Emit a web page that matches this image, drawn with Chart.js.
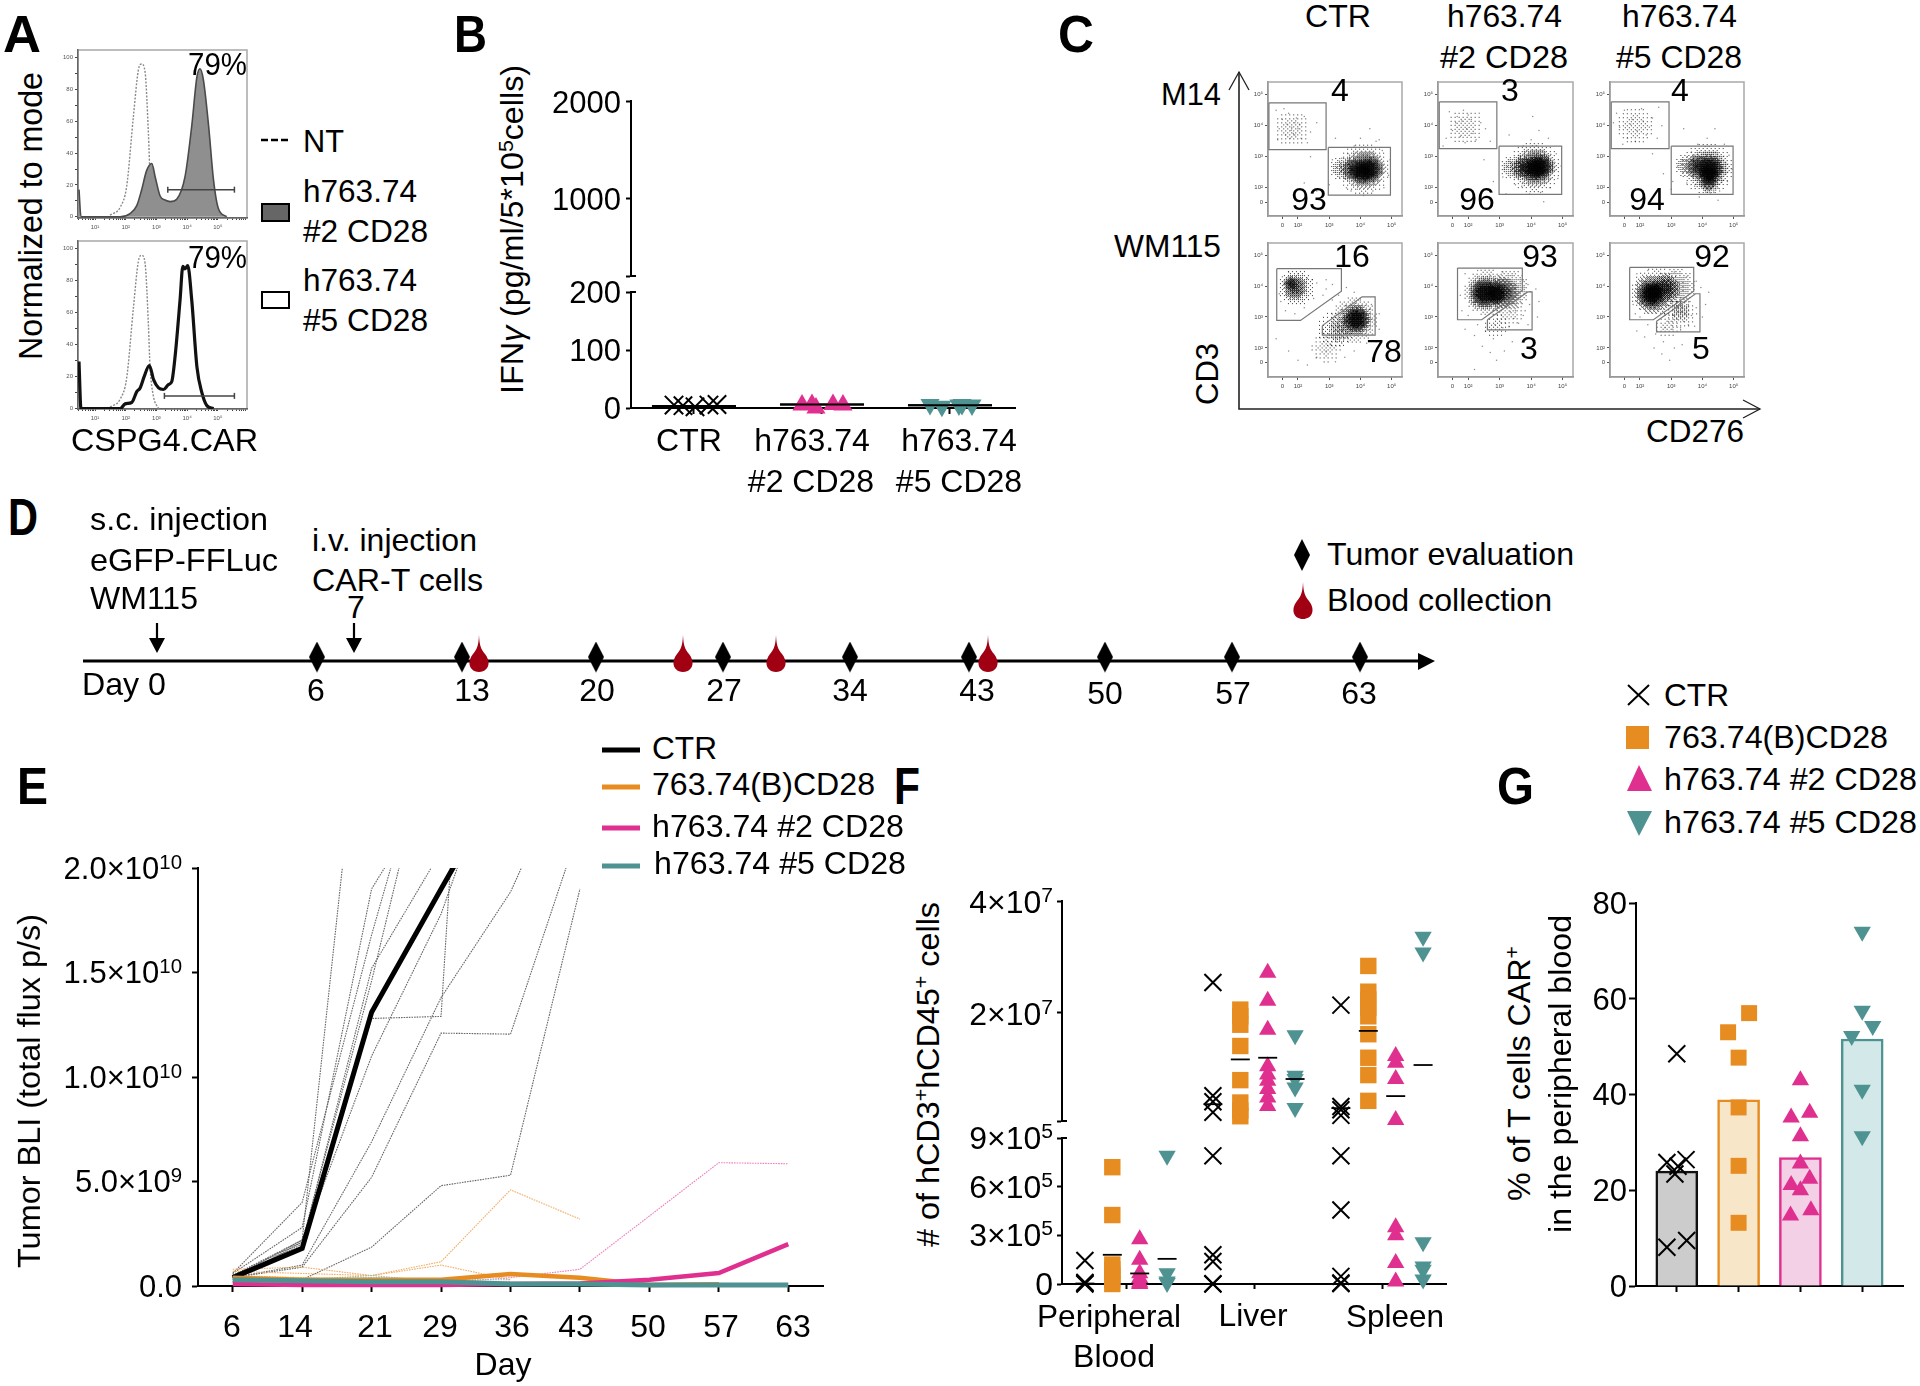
<!DOCTYPE html>
<html><head><meta charset="utf-8">
<script src="https://cdn.jsdelivr.net/npm/chart.js@4"></script>
<style>
html,body{margin:0;padding:0;background:#fff;width:1920px;height:1386px;overflow:hidden;font-family:"Liberation Sans",Arial,sans-serif}
canvas{position:absolute}
span.t{position:absolute;left:0;top:0;white-space:nowrap;line-height:1;color:#000;transform-origin:0 0}
sup{font-size:.66em;line-height:0;vertical-align:baseline;position:relative;top:-.5em}
svg{position:absolute;left:0;top:0}
</style></head><body>
<script>
// ---------- Panel A: histograms (x = log10 intensity, y = % of mode)
const ntX=[1.49,1.82,2.03,2.25,2.41,2.52,2.63,2.74,2.79,2.9,3.07];
const ntY=[1,6,19,63,92,96,91,52,27,8,0];
const h2X=[.478,.543,1.82,2.14,2.36,2.52,2.68,2.85,2.96,3.12,3.28,3.45,3.66,3.93,4.15,4.32,4.42,4.53,4.7,4.86,5.02,5.29];
const h2Y=[17,0,0,2,7,17,29,33.5,25,13,10.5,9.5,11,25,57,88,93,86,57,23,5,0];
const h5X=[.478,.543,1.82,1.98,2.2,2.36,2.47,2.6,2.77,2.91,3.07,3.23,3.39,3.5,3.61,3.77,3.86,3.93,4.02,4.15,4.32,4.48,4.64,4.86];
const h5Y=[29.5,0,0,3,4,10.7,13,20,27,18,13,12,15,17,33,68,89,87.5,89.5,68,26,10,2,0];
const gateTopX=[3.37,5.54], gateTopY=[17,17], gateBotX=[3.26,5.54], gateBotY=[8,8];
const histTicksY=[0,10,20,30,40,50,60,70,80,90,100];
// ---------- Panel B
const catB=[["CTR"],["h763.74","#2 CD28"],["h763.74","#5 CD28"]];
const bCtrX=[-.156,-.086,.008,.117,.18], bCtrV=[5,4,2,5,6];
const bH2X=[-.156,-.078,-.047,.086,.164], bH2V=[5,6,0,6,5];
const bH5X=[-.156,-.063,.07,.094,.172], bH5V=[6,3,5,6,5];
const bMeans=[3.5,6,4.6];
const bTopTicks=[200,1000,2000], bTopText=["","1000","2000"], bBotTicks=[0,100,200], bBotText=["0","100","200"];
// ---------- Panel C: flow plots, axes in log10 units; [x,y,radius] density clouds and single events
const flowTicksX=[1.5,2,3,4,5], flowTicksY=[1.53,2,3,4,5], flowTickText=["0","10²","10³","10⁴","10⁵"];
const flowHead=["CTR","h763.74","h763.74"];
const gates=[
 [[1.07,4.74,2.9,4.74,2.9,3.23,1.07,3.23,1.07,4.74],[2.97,3.3,4.96,3.3,4.96,1.76,2.97,1.76,2.97,3.3]],
 [[1.08,4.77,2.91,4.77,2.91,3.26,1.08,3.26,1.08,4.77],[2.98,3.34,4.97,3.34,4.97,1.79,2.98,1.79,2.98,3.34]],
 [[1.08,4.77,2.93,4.77,2.93,3.26,1.08,3.26,1.08,4.77],[3.0,3.34,4.98,3.34,4.98,1.79,3.0,1.79,3.0,3.34]],
 [[1.32,4.56,3.39,4.56,3.39,3.83,2.08,2.89,1.32,2.89,1.32,4.56],[2.78,2.72,4.05,3.65,4.47,3.65,4.47,2.41,2.78,2.41,2.78,2.72]],
 [[1.66,4.58,3.72,4.58,3.72,3.86,2.43,2.91,1.66,2.91,1.66,4.58],[2.61,2.91,3.89,3.81,4.03,3.81,4.03,2.58,2.61,2.58,2.61,2.91]],
 [[1.67,4.6,3.72,4.6,3.72,3.83,2.43,2.91,1.67,2.91,1.67,4.6],[2.53,2.86,3.78,3.75,3.92,3.75,3.92,2.52,2.53,2.52,2.53,2.86]]];
const blobCore=[
 [[4.3,2.6,14],[4.05,2.52,13]],[[4.3,2.68,14],[4.1,2.62,13]],[[4.25,2.62,14],[4.2,2.42,11]],
 [[3.87,2.93,14]],[[2.5,3.77,15],[2.9,3.75,12]],[[2.35,3.72,15],[2.45,3.8,12]]];
const blobMid=[
 [[4.15,2.6,21],[3.75,2.6,13]],[[4.15,2.66,21],[3.75,2.65,13]],[[4.2,2.6,21],[3.85,2.7,13],[4.2,2.15,11]],
 [[3.85,2.92,18],[1.9,3.95,13],[1.75,4.1,8]],[[2.55,3.78,20],[3.1,3.8,17]],[[2.4,3.75,21],[2.85,3.95,15]]];
const blobHalo=[
 [[4.1,2.6,28],[3.4,2.62,14]],[[4.1,2.65,28],[3.4,2.65,14]],[[4.15,2.62,28],[3.5,2.72,14]],
 [[3.8,2.9,26],[3.3,2.55,13],[1.95,3.95,20]],[[2.6,3.8,26],[3.3,3.85,23]],[[2.5,3.8,27],[3.15,3.95,22],[3.3,3.2,12]]];
const blobFaint=[
 [[1.8,3.9,22]],[[1.9,3.95,22]],[[1.85,4.0,24]],
 [[3.2,2.6,24],[2.9,2.0,18]],[[3.3,3.2,20],[2.9,2.7,15]],[[3.3,3.1,20],[2.9,2.7,15]]];
const flowDots=[
 [1.3,4.5,1.5,4.2,1.7,4.4,1.9,4.1,2.2,4.3,1.4,3.9,1.6,3.7,1.8,3.95,1.85,3.75,2,3.9,2.1,3.6,2.4,3.8,1.75,3.6,1.95,4.25,1.65,4.05,2.6,4.1,1.35,3.55,2.3,3.45,1.55,4.55,1.78,3.85,1.9,3.7,2.05,4.05,3.2,2.5,3.35,2.7,3.5,2.3,3.4,2.95,3.6,3.1,3.55,2,3.8,3.35,4,3.6,4.3,3.9,4.5,3.5,4.7,3.2,4.95,2.9,4.9,2.4,4.75,2,4.4,1.9,4.1,1.75,3.9,1.95,3.2,3.6,3,2.1,2.6,1.9,2.4,3,3.7,1.9,3.1,2.9,4.6,3.55,2.2,2.15],
 [1.4,4.45,1.65,4.3,1.85,4.5,2.1,4.2,2.4,4.1,1.5,3.85,1.75,3.65,1.95,3.9,2.15,3.75,2.25,3.55,1.6,4.1,2.55,3.9,1.3,3.6,2,4.35,1.8,4.15,2.7,3.5,2.35,4.4,1.9,3.45,3.15,2.6,3.3,2.85,3.45,2.45,3.6,3.05,3.5,2.1,3.75,3.35,4,3.55,4.25,3.85,4.55,3.6,4.8,3.1,4.95,2.7,4.85,2.3,4.6,2,4.3,1.85,3.95,1.8,3.7,2.05,3.1,2.35,2.8,2.2,2.5,2.9,3.3,3.7,4.4,1.55,3.2,1.8,4.05,4.3,1.2,3.35],
 [1.25,4.4,1.5,4.5,1.75,4.2,2.05,4.55,2.4,4.25,1.35,3.95,1.6,3.6,1.9,3.85,2.2,3.7,2.55,3.6,1.7,4.05,2.7,4.0,1.45,3.4,2.1,4.15,1.85,3.5,2.3,3.95,2.6,4.6,1.15,4.1,3.2,2.7,3.35,2.9,3.5,2.5,3.65,3.15,3.5,2.15,3.85,3.4,4.15,3.6,4.4,3.9,4.7,3.4,4.85,3.05,4.95,2.6,4.8,2.2,4.55,1.9,4.25,1.8,3.9,1.7,3.75,2.05,3.05,2.2,2.75,2.45,2.4,3.1,3.4,3.9,4.5,1.6,3.0,1.95],
 [1.5,4.3,1.7,4.45,2.0,4.4,2.3,4.25,2.6,4.1,2.9,4.2,3.1,4.05,1.45,3.5,1.6,3.2,1.9,3.1,2.2,3.3,2.5,3.6,2.8,3.7,3.1,3.55,3.3,3.7,1.4,3.75,2.45,4.2,2.9,3.9,3.55,3.95,3.8,3.8,4.0,3.55,4.3,3.25,4.6,3.1,4.6,2.6,4.5,2.2,4.2,2.15,3.8,1.9,3.5,1.7,3.2,1.55,2.9,1.9,2.6,1.7,2.3,1.45,2.0,1.6,1.7,1.9,2.9,2.35,3.05,2.1,3.4,2.15,3.6,2.3,3.15,2.65,3.35,3.05,3.1,2.95,3.9,2.4,4.2,2.55,4.35,3.4,1.3,2.3],
 [1.9,4.4,2.3,4.5,2.7,4.35,3.1,4.45,3.5,4.4,3.75,4.2,3.9,4.05,4.15,3.9,1.8,3.2,2.0,3.05,2.2,3.4,3.55,3.55,3.3,3.3,3.0,3.15,3.45,2.95,3.75,3.05,3.95,3.4,3.6,2.8,3.3,2.7,3.9,2.75,3.1,2.65,2.85,2.75,3.5,3.2,2.3,2.75,2.55,2.55,2.2,2.4,2.8,2.3,3.4,2.2,2.45,2.05,2.7,1.85,2.9,1.6,3.15,1.9,1.9,2.6,2.2,1.3,4.25,3.5,4.2,3.0,1.75,3.7],
 [1.9,4.4,2.25,4.5,2.65,4.4,3.1,4.45,3.5,4.3,3.8,4.15,3.95,3.95,4.2,3.8,1.85,3.1,2.0,3.0,1.78,3.4,3.55,3.4,3.3,3.15,3.05,3.05,3.4,2.85,3.65,3.05,3.8,3.3,3.55,2.75,3.3,2.65,3.75,2.7,3.05,2.6,2.8,2.65,3.45,3.1,2.25,2.75,2.5,2.45,2.15,2.35,2.75,2.2,3.35,2.1,2.45,2.0,2.7,1.8,2.95,1.6,3.1,2.0,1.9,2.55,4.1,3.4,4.0,3.0,3.2,3.5,3.5,3.6]];
const flowNums=[["4","93"],["3","96"],["4","94"],["16","78"],["93","3"],["92","5"]];
// ---------- Panel D
const tumorDays=[6,13,20,27,34,43,50,57,63];
const bloodDays=[14,25,30,44];
const dayAnchor=[-4,0,6,7,13,14,20,25,27,30,34,43,44,50,57,63,67];
const dayText=["6","13","20","27","34","43","50","57","63"];
// ---------- Panel E
const eDays=["6","14","21","29","36","43","50","57","63"];
const eTicks=[0,5e9,1e10,1.5e10,2e10], eTickText=["0.0","5.0×10<sup>9</sup>","1.0×10<sup>10</sup>","1.5×10<sup>10</sup>","2.0×10<sup>10</sup>"];
const eMeanCtr=[.04,.18,1.31,1.9,2.48];
const eMean763=[.04,.03,.03,.03,.057,.04,.005,.008];
const eMeanH2=[.01,.005,.005,.005,.01,.012,.03,.062,.2];
const eMeanH5=[.03,.025,.02,.02,.01,.01,.005,.005,.005];
const eMiceCtr=[[.05,.22,3.3],[.06,.28,1.9,2.44],[.06,.4,1.68,2.84],[.05,.21,1.46,2.83],[.04,.2,1.52,2.08],[.03,.21,1.1,1.78,2.72],[.04,.22,1.28,1.29,6.6],[.04,.1,.69,1.38,1.885,2.62],[.04,.09,.52,1.21,1.205,2.2],[.02,.03,.186,.48,.53,1.9]];
const eMice763=[[.08,.09,.05,.116,.46,.32],[.07,.06,.05,.1,.03],[.05,.04,.03,.02,.02]];
const eMiceH2=[[.02,.01,.01,.015,.04,.08,.335,.59,.585],[.04,.02,.01,.01,.01]];
const eMiceH5=[[.04,.03,.04,.03,.03],[.02,.03,.05,.02,.01]];
const eLegend=["CTR","763.74(B)CD28","h763.74 #2 CD28","h763.74 #5 CD28"];
// ---------- Panel F: [peripheral blood, liver, spleen]
const fGroups=[["Peripheral","Blood"],["Liver"],["Spleen"]];
const fCtr=[[1.45e5,5e3,0,1e4],[2.544e7,5.2e6,4.14e6,2.25e6,7.9e5,1.8e5,1.39e5,2e3,0],[2.14e7,3.3e6,2.7e6,1.7e6,7.9e5,4.56e5,4.7e4,6e3,2e3]];
const f763=[[7.2e5,4.25e5,1.2e5,9e4,5.7e4,2.7e4,0],[2.06e7,1.94e7,1.79e7,1.41e7,8e6,4e6,2.55e6,1.55e6],[2.84e7,2.38e7,2.24e7,2.09e7,1.94e7,1.62e7,1.2e7,8.9e6,4.3e6]];
const fH2=[[2.76e5,1.5e5,6.7e4,3.7e4,1e4,0],[2.72e7,2.22e7,1.7e7,1.05e7,9e6,7.9e6,6.4e6,4.9e6,3.4e6],[1.23e7,1.11e7,8.2e6,9e5,3.5e5,3e5,1.3e5,1.6e4]];
const fH5=[[7.9e5,6.7e4,1.6e4,6e3],[1.6e7,8.8e6,8.2e6,6.7e6,3e6],[3.36e7,3.08e7,2.58e5,1.08e5,8.8e4,2.7e4]];
const fMeanCtr=[3e3,3.7e6,3e6], fMean763=[1.8e5,1.17e7,1.68e7], fMeanH2=[6.5e4,1.2e7,5.15e6], fMeanH5=[1.55e5,8.2e6,1.07e7];
const fTopTicks=[7e5,2e7,4e7], fTopText=["","2×10<sup>7</sup>","4×10<sup>7</sup>"];
const fBotTicks=[0,3e5,6e5,9e5], fBotText=["0","3×10<sup>5</sup>","6×10<sup>5</sup>","9×10<sup>5</sup>"];
// ---------- Panel G
const gMeans=[24,38.9,26.8,51.6];
const gCtrX=[0,-.16,.15,.02,-.03,-.16,.16], gCtrV=[48.5,25.8,26.4,25,23.4,8.1,9.5];
const g763X=[.17,-.17,0,0,0,0], g763V=[57,53,47.7,37.3,25.1,13.2];
const gH2X=[0,-.15,.15,0,0,.15,-.15,0,-.16,.17], gH2V=[43,35.2,36.2,31.3,25.6,22.4,21.1,20,14.7,15.8];
const gH5X=[0,0,.17,-.17,0,0], gH5V=[74,57.5,54.3,52.2,41,31.3];
const gTicks=[0,20,40,60,80], gTickText=["0","20","40","60","80"];

const BLACK='#000',ORANGE='#e78c21',PINK='#e0308f',TEAL='#4f9292';
Chart.defaults.font.family='"Liberation Sans",Arial,sans-serif';
Chart.defaults.animation=false;
Chart.defaults.color='#000';
const zip=(xs,ys)=>xs.map((x,i)=>({x,y:ys[i]}));
const flat=a=>{const o=[];for(let i=0;i<a.length;i+=2)o.push({x:a[i],y:a[i+1]});return o};

class AnchorScale extends Chart.LinearScale{
  getPixelForValue(v){const a=this.options.anchors,p=this.options.anchorPx;
    let i=0;while(i<a.length-2&&v>a[i+1])i++;
    return p[i]+(v-a[i])/(a[i+1]-a[i])*(p[i+1]-p[i])-this.options.originPx}
}
AnchorScale.id='anchor';AnchorScale.defaults=Chart.LinearScale.defaults;
Chart.register(AnchorScale);

const frame=c=>({id:'frame',beforeDraw(ch){const a=ch.chartArea,x=ch.ctx;x.save();x.strokeStyle=c;x.lineWidth=1.5;x.strokeRect(a.left,a.top,a.right-a.left,a.bottom-a.top);x.restore()}});
const rightTick=(vals,len)=>({id:'rightTick',afterDraw(ch){const x=ch.ctx,s=ch.scales.y;x.save();x.strokeStyle='#000';x.lineWidth=2;vals.forEach(v=>{const y=s.getPixelForValue(v);x.beginPath();x.moveTo(ch.chartArea.left,y);x.lineTo(ch.chartArea.left+len,y);x.stroke()});x.restore()}});

function mk([cx,cy,cw,ch],[l,t,r,b],cfg){
  const cv=document.createElement('canvas');cv.width=cw;cv.height=ch;cv.style.left=cx+'px';cv.style.top=cy+'px';document.body.appendChild(cv);
  const sc=cfg.scales,hx=sc.x.display===false,hy=sc.y.display===false;
  if(!hx)sc.x.afterFit=s=>{s.height=cy+ch-b};
  if(!hy)sc.y.afterFit=s=>{s.width=l-cx};
  cfg.datasets.forEach((d,i)=>{d.order=-i});
  const c=new Chart(cv,{type:cfg.type||'scatter',data:{labels:cfg.labels,datasets:cfg.datasets},plugins:cfg.plugins||[],
    options:{responsive:false,maintainAspectRatio:false,animation:false,events:[],
      layout:{autoPadding:false,padding:{left:hy?l-cx:0,top:t-cy,right:cx+cw-r,bottom:hx?cy+ch-b:0}},
      plugins:{legend:{display:false},tooltip:{enabled:false},title:{display:false}},scales:sc}});
  c.$cy=cy;c.$cx=cx;return c;
}
function ax(min,max,o={}){
  const a={type:'linear',min,max,offset:false,
    border:{color:o.bc||'#000',width:o.bw||2},
    grid:{drawOnChartArea:false,drawTicks:true,offset:false,tickLength:o.tl??6,tickWidth:o.tw||2,tickColor:o.tc||'#000'},
    ticks:{display:!!o.fmt,font:{size:o.fs||31},color:o.lc||'#000',padding:o.pad??3,maxRotation:0,minRotation:0,autoSkip:false,callback:o.fmt||(()=>'' ),includeBounds:false}};
  if(o.vals)a.afterBuildTicks=s=>{s.ticks=o.vals.map(v=>({value:v}))};
  return a;
}
const hidden=(min,max)=>({type:'linear',min,max,display:false});
const byVal=(vals,text)=>v=>{const i=vals.findIndex(q=>Math.abs(q-v)<1e-6*(Math.abs(q)+1));return i<0?'':text[i]};

function T(html,x,y,size,o={}){
  const s=document.createElement('span');s.className='t';s.innerHTML=html;s.style.fontSize=size+'px';
  if(o.bold)s.style.fontWeight='bold';document.body.appendChild(s);
  const w=s.getBoundingClientRect().width,k=o.w?o.w/w:1,dx=o.align==='c'?-w*k/2:o.align==='r'?-w*k:0;
  s.style.transform=`translate(${x}px,${y}px) rotate(${o.rot||0}deg) translate(${dx}px,${-.8465*size}px) scaleX(${k})`;
}
function axisText(chart,vals,text,right,drop,size){vals.forEach((v,i)=>{if(text[i])T(text[i],right,chart.$cy+chart.scales.y.getPixelForValue(v)+drop,size,{align:'r'})})}
const svgNS='http://www.w3.org/2000/svg';
const svg=document.createElementNS(svgNS,'svg');svg.setAttribute('width',1920);svg.setAttribute('height',1386);
function P(d,a){const p=document.createElementNS(svgNS,'path');p.setAttribute('d',d);for(const k in a)p.setAttribute(k,a[k]);svg.appendChild(p)}

// ===== Panel A
const histLogTicks=[];for(let n=0;n<6;n++)for(let k=1;k<10;k++){const v=n+Math.log10(k);if(v>.45&&v<5.95)histLogTicks.push(v)}
const expText={1:"10¹",2:"10²",3:"10³",4:"10⁴",5:"10⁵"};
function hist(rect,plot,yMin,yMax,main,gate,fillColor,lineW){
  mk(rect,plot,{datasets:[
    {data:zip(ntX,ntY),showLine:true,borderColor:'#8a8a8a',borderWidth:1.4,borderDash:[2,1.5],pointRadius:0,cubicInterpolationMode:'monotone'},
    {data:main,showLine:true,borderColor:fillColor?'#4a4a4a':'#111',borderWidth:lineW,pointRadius:0,cubicInterpolationMode:'monotone',fill:fillColor?'origin':false,backgroundColor:fillColor||'transparent'},
    {data:gate,showLine:true,borderColor:'#444',borderWidth:1.5,pointStyle:'line',rotation:90,pointRadius:3,pointBorderWidth:1.5,pointBorderColor:'#444'}],
   plugins:[frame('#a8a8a8')],
   scales:{x:ax(.446,5.95,{vals:histLogTicks,tl:2,tw:1,bw:1.5,tc:'#444',bc:'#666',fs:6,lc:'#555',pad:4,fmt:v=>{const n=Math.round(v);return Math.abs(v-n)<1e-6?expText[n]||'':''}}),
           y:ax(yMin,yMax,{vals:histTicksY,tl:3,tw:1,bw:1.5,tc:'#444',bc:'#666',fs:6,lc:'#555',pad:2,fmt:v=>v%20===0?String(v):''})}});
}
hist([50,40,210,200],[78,50,247,218],-.8,104.8,zip(h2X,h2Y),zip(gateTopX,gateTopY),'#8f8f8f',1.6);
hist([50,231,210,200],[78,241,247,409],-.2,104.9,zip(h5X,h5Y),zip(gateBotX,gateBotY),null,3.2);

// ===== Panel B
const chBt=mk([545,70,485,230],[631,101,1015,276],{datasets:[],plugins:[rightTick([200],5)],
  scales:{x:hidden(-.492,2.508),y:ax(200,2000,{vals:bTopTicks,tl:5})}});
const xMark=(data,r,w)=>({data,pointStyle:'crossRot',pointRadius:r,borderColor:BLACK,pointBorderColor:BLACK,pointBorderWidth:w,clip:false,backgroundColor:'transparent'});
const upMark=(data,r)=>({data,pointStyle:'triangle',pointRadius:r,pointBackgroundColor:PINK,pointBorderWidth:0,clip:false});
const downMark=(data,r)=>({data,pointStyle:'triangle',rotation:180,pointRadius:r,pointBackgroundColor:TEAL,pointBorderWidth:0,clip:false});
const sqMark=(data,r)=>({data,pointStyle:'rect',pointRadius:r,pointBackgroundColor:ORANGE,pointBorderWidth:0,clip:false});
const meanMark=(data,r,w)=>({data,pointStyle:'line',pointRadius:r,pointBorderColor:BLACK,pointBorderWidth:w,clip:false});
const chBb=mk([545,260,485,185],[631,292,1015,408],{datasets:[
    meanMark(bMeans.map((y,x)=>({x,y})),42,2),
    xMark(bCtrX.map((d,i)=>({x:d,y:bCtrV[i]})),13,2),
    upMark(bH2X.map((d,i)=>({x:1+d,y:bH2V[i]})),11),
    downMark(bH5X.map((d,i)=>({x:2+d,y:bH5V[i]})),11),
    meanMark(bMeans.map((y,x)=>({x,y})),42,2)],
  plugins:[rightTick([200],5)],
  scales:{x:ax(-.492,2.508,{vals:[0,1,2],tl:6}),y:ax(0,200,{vals:bBotTicks,tl:5})}});
axisText(chBt,bTopTicks,bTopText,621,12,31);axisText(chBb,bBotTicks,bBotText,621,11,31);

// ===== Panel C
// A density cloud is drawn as a stippled marker: an ordered-dither rendering of a soft disc.
const BAYER=[0,8,2,10,12,4,14,6,3,11,1,9,15,7,13,5];
function stipple(r,peak){
  const n=2*Math.ceil(r)+1,c=document.createElement('canvas');c.width=c.height=n;
  const x=c.getContext('2d'),im=x.createImageData(n,n),m=(n-1)/2;
  for(let j=0;j<n;j++)for(let i=0;i<n;i++){
    const d2=((i-m)*(i-m)+(j-m)*(j-m))/(r*r);if(d2>=1)continue;
    const a=peak*Math.pow(1-d2,1.3)*1.25;
    if(a>(BAYER[(i&3)+4*(j&3)]+.5)/16){im.data[4*(j*n+i)+3]=205}
  }
  x.putImageData(im,0,0);return c;
}
const colL=[1268,1438,1610],colR=[1402,1573,1744],rowT=[82,243],rowB=[216,377];
for(let r=0;r<2;r++)for(let c=0;c<3;c++){
  const i=r*3+c,l=colL[c],R=colR[c],t=rowT[r],b=rowB[r];
  const cloud=(arr,peak)=>({data:arr.map(a=>({x:a[0],y:a[1]})),pointStyle:arr.map(a=>stipple(a[2],peak))});
  mk([l-26,t-6,R-l+32,b-t+24],[l,t,R,b],{datasets:[
     cloud(blobFaint[i],.1),cloud(blobHalo[i],.28),cloud(blobMid[i],.65),cloud(blobCore[i],1),
     {data:flat(flowDots[i]),pointRadius:.75,pointBackgroundColor:'rgba(0,0,0,.45)',pointBorderWidth:0},
     ...gates[i].map(g=>({data:flat(g),showLine:true,borderColor:'#777',borderWidth:1.2,pointRadius:0}))],
    plugins:[frame('#a9a9a9')],
    scales:{x:ax(1.04,5.33,{vals:flowTicksX,tl:3,tw:1,bw:1.5,bc:'#999',tc:'#555',fs:6,lc:'#444',pad:3,fmt:byVal(flowTicksX,flowTickText)}),
            y:ax(r?1.06:1.09,r?5.39:5.41,{vals:flowTicksY,tl:3,tw:1,bw:1.5,bc:'#999',tc:'#555',fs:6,lc:'#444',pad:2,fmt:byVal(flowTicksY,flowTickText)})}});
}

// ===== Panel D
function markCanvas(w,h,padBottom,draw){const c=document.createElement('canvas');c.width=w;c.height=h+padBottom;draw(c.getContext('2d'));return c}
const diamond=pad=>markCanvas(16,31,pad,x=>{x.fillStyle='#000';x.beginPath();x.moveTo(8,0);x.lineTo(16,15.5);x.lineTo(8,31);x.lineTo(0,15.5);x.closePath();x.fill()});
const drop=pad=>markCanvas(22,37,pad,x=>{x.fillStyle='#a00012';x.beginPath();x.moveTo(11,0);x.bezierCurveTo(11.5,11,13,14,17,19);x.bezierCurveTo(24,28,20,37,11,37);x.bezierCurveTo(2,37,-2,28,5,19);x.bezierCurveTo(9,14,10.5,11,11,0);x.closePath();x.fill()});
const dayPx=[83,157,317,354,462,479,596,683,723,776,850,969,988,1105,1232,1360,1425];
mk([60,625,1400,70],[83,640,1434,682],{datasets:[
   {data:[{x:-4,y:0},{x:67,y:0}],showLine:true,borderColor:'#000',borderWidth:3,pointRadius:0,clip:false},
   {data:tumorDays.map(x=>({x,y:0})),pointStyle:diamond(8),clip:false},
   {data:bloodDays.map(x=>({x,y:0})),pointStyle:drop(15),clip:false}],
  scales:{x:{type:'anchor',min:-4,max:67,display:false,anchors:dayAnchor,anchorPx:dayPx,originPx:60},y:hidden(-1,1)}});

// ===== Panel E
const thin=(d,c)=>({data:d.map(v=>v*1e10),borderColor:c,borderWidth:1.1,borderDash:[1.6,1],pointRadius:0,clip:{left:false,top:0,right:false,bottom:false}});
const bold=(d,c,w)=>({data:d.map(v=>v*1e10),borderColor:c,borderWidth:w,pointRadius:0,clip:{left:false,top:0,right:false,bottom:false}});
const chE=mk([40,840,810,540],[198,868,823,1286],{type:'line',labels:eDays,datasets:[
   ...eMiceCtr.map(d=>thin(d,'#666')),...eMice763.map(d=>thin(d,'#f2ad63')),...eMiceH2.map(d=>thin(d,'#ee7fbb')),...eMiceH5.map(d=>thin(d,'#8fc1c1')),
   bold(eMeanCtr,BLACK,5),bold(eMean763,ORANGE,4.5),bold(eMeanH2,PINK,4.5),bold(eMeanH5,TEAL,5)],
  scales:{x:{type:'category',offset:true,border:{color:'#000',width:2},grid:{drawOnChartArea:false,offset:false,tickLength:6,tickWidth:2,tickColor:'#000'},
             ticks:{display:false,autoSkip:false}},
          y:ax(0,2e10,{vals:eTicks,tl:6})}});
axisText(chE,eTicks,eTickText,182,11,31);
const eTextCx=[232,295,375,440,512,576,648,721,793];
eDays.forEach((d,i)=>T(d,eTextCx[i],1337,32,{align:'c'}));

// ===== Panel F
const subX=[-.321,-.107,.107,.321];
function fPts(series,s,keep){const o=[];series.forEach((vals,g)=>vals.forEach(y=>{if(keep(y))o.push({x:g+subX[s],y})}));return o}
function fMeans(m,s,keep){const o=[];m.forEach((y,g)=>{if(keep(y))o.push({x:g+subX[s],y})});return o}
function fData(keep){return [
   xMark(fPts(fCtr,0,keep),12,2),sqMark(fPts(f763,1,keep),11.6),upMark(fPts(fH2,2,keep),10),downMark(fPts(fH5,3,keep),10),
   meanMark(fMeans(fMeanCtr,0,keep),9.5,1.8),meanMark(fMeans(fMean763,1,keep),9.5,1.8),meanMark(fMeans(fMeanH2,2,keep),9.5,1.8),meanMark(fMeans(fMeanH5,3,keep),9.5,1.8)]}
const isTop=v=>v>8.5e5,isBot=v=>v<=8.5e5;
const chFt=mk([950,880,510,262],[1062,901,1446,1121],{datasets:fData(isTop),plugins:[rightTick([7e5],5)],
  scales:{x:hidden(-.5,2.5),y:ax(7e5,4e7,{vals:fTopTicks,tl:5})}});
const chFb=mk([950,1108,510,200],[1062,1138,1446,1284],{datasets:fData(isBot),plugins:[rightTick([9e5],5)],
  scales:{x:ax(-.5,2.5,{vals:[0,1,2],tl:5}),y:ax(0,9e5,{vals:fBotTicks,tl:5})}});
axisText(chFt,fTopTicks,fTopText,1053,12,32);axisText(chFb,fBotTicks,fBotText,1053,11,32);

// ===== Panel G
const barFill=['#cccccc','#f8e6c8','#f3d0e6','#d3e9e9'],barLine=['#111',ORANGE,PINK,TEAL];
const chG=mk([1580,875,335,440],[1636,903,1903,1286],{datasets:[
   {type:'bar',data:gMeans.map((y,x)=>({x,y})),backgroundColor:barFill,borderColor:barLine,borderWidth:{top:2.5,left:2.5,right:2.5,bottom:0},barThickness:42},
   xMark(gCtrX.map((d,i)=>({x:d,y:gCtrV[i]})),12,2),sqMark(g763X.map((d,i)=>({x:1+d,y:g763V[i]})),11.3),
   upMark(gH2X.map((d,i)=>({x:2+d,y:gH2V[i]})),10),downMark(gH5X.map((d,i)=>({x:3+d,y:gH5V[i]})),10)],
  scales:{x:ax(-.66,3.66,{vals:[0,1,2,3],tl:6}),y:ax(0,80,{vals:gTicks,tl:7})}});
axisText(chG,gTicks,gTickText,1627,11,31);

// ===== Text
const L=(s,x,y,w)=>T(s,x,y,52,{bold:true,w});
L('A',3,52,38);L('B',454,52,33);L('C',1058,52,36);L('D',8,535,30);L('E',17,804,31);L('F',894,804,26);L('G',1497,804,37);
// A
T('Normalized to mode',42,360,33,{rot:-90,w:288});
T('79%',188,75,32,{w:59});T('79%',188,268,32,{w:59});T('CSPG4.CAR',71,451,32,{w:187});
T('NT',303,152,32,{w:41});T('h763.74',303,202,32,{w:114});T('#2 CD28',303,242,32,{w:125});T('h763.74',303,291,32,{w:114});T('#5 CD28',303,331,32,{w:125});
P('M261 140h29',{stroke:'#000','stroke-width':2.5,'stroke-dasharray':'7 3',fill:'none'});
P('M262 204h27v17h-27z',{stroke:'#000','stroke-width':2,fill:'#666'});
P('M262 292h27v16h-27z',{stroke:'#000','stroke-width':2,fill:'#fff'});
// B
T('IFN<i>γ</i> (pg/ml/5*10<sup>5</sup>cells)',523,394,31,{rot:-90,w:329});
T(catB[0][0],689,451,32,{align:'c'});T(catB[1][0],812,451,32,{align:'c'});T(catB[1][1],811,492,32,{align:'c'});T(catB[2][0],959,451,32,{align:'c'});T(catB[2][1],959,492,32,{align:'c'});
// C
T(flowHead[0],1305,27,32,{w:66});T(flowHead[1],1447,27,32,{w:115});T('#2 CD28',1440,68,32,{w:128});T(flowHead[2],1622,27,32,{w:115});T('#5 CD28',1616,68,32,{w:126});
T('M14',1161,105,32,{w:60});T('WM115',1114,257,32,{w:107});T('CD3',1218,405,32,{rot:-90,w:62});T('CD276',1646,442,32,{w:98});
const numPos=[[1340,101,1309,210],[1510,101,1477,210],[1680,101,1647,210],[1352,267,1384,362],[1540,267,1529,359],[1712,267,1701,359]];
flowNums.forEach((n,i)=>{const p=numPos[i];T(n[0],p[0],p[1],32,{align:'c'});T(n[1],p[2],p[3],32,{align:'c'})});
P('M1239 72V409H1760',{stroke:'#222','stroke-width':1.6,fill:'none'});
P('M1229 90L1239 72L1249 90M1743 400L1760 409L1743 418',{stroke:'#222','stroke-width':1.3,fill:'none'});
// D
T('s.c. injection',90,530,32,{w:178});T('eGFP-FFLuc',90,571,32,{w:188});T('WM115',90,609,32,{w:108});
T('i.v. injection',312,551,32,{w:165});T('CAR-T cells',312,591,32,{w:171});T('7',356,618,32,{align:'c'});T('Day 0',82,695,32,{w:84});
const dayTextX=[316,472,597,724,850,977,1105,1233,1359],dayTextY=[701,701,701,701,701,701,704,704,704];
dayText.forEach((d,i)=>T(d,dayTextX[i],dayTextY[i],32,{align:'c'}));
T('Tumor evaluation',1327,565,32,{w:247});T('Blood collection',1327,611,32,{w:225});
P('M157 623V642M354 623V642',{stroke:'#000','stroke-width':2.2,fill:'none'});
P('M149 638L157 653L165 638ZM346 638L354 653L362 638Z',{fill:'#000'});
P('M1418 653L1435 661L1418 670Z',{fill:'#000'});
P('M1302 539L1310 555L1302 571L1294 555Z',{fill:'#000'});
P('M1303 582C1303.5 593 1305 596 1309 601C1316 610 1312 619 1303 619C1294 619 1290 610 1297 601C1301 596 1302.5 593 1303 582Z',{fill:'#a00012'});
// E
T('Tumor BLI (total flux p/s)',40,1268,32,{rot:-90,w:354});T('Day',503,1375,32,{align:'c'});
const eLegY=[750,787,828,866],eLegCol=[BLACK,ORANGE,PINK,TEAL],eLegW=[5,5,5,5],eTextX=[652,652,652,654],eTextY=[759,795,837,874],eTextW=[65,223,252,252];
eLegend.forEach((s,i)=>{T(s,eTextX[i],eTextY[i],32,{w:eTextW[i]});P(`M602 ${eLegY[i]}H640`,{stroke:eLegCol[i],'stroke-width':eLegW[i]})});
// F
T('# of hCD3<sup>+</sup>hCD45<sup>+</sup> cells',939,1247,32,{rot:-90,w:345});
T(fGroups[0][0],1109,1327,32,{align:'c',w:144});T(fGroups[0][1],1114,1367,32,{align:'c'});T(fGroups[1][0],1253,1326,32,{align:'c',w:69});T(fGroups[2][0],1395,1327,32,{align:'c',w:98});
// G
T('% of T cells CAR<sup>+</sup>',1530,1201,32,{rot:-90,w:255});T('in the peripheral blood',1571,1233,32,{rot:-90,w:318});
const gLegY=[706,748,790,833],gLegW=[65,224,253,253];
eLegend.forEach((s,i)=>T(s,1664,gLegY[i],32,{w:gLegW[i]}));
P('M1628 685L1649 705M1649 685L1628 705',{stroke:'#000','stroke-width':2,fill:'none'});
P('M1626 726h23v23h-23z',{fill:ORANGE});P('M1639 765L1652 791H1627Z',{fill:PINK});P('M1627 811H1652L1639 836Z',{fill:TEAL});
document.body.appendChild(svg);
</script>
</body></html>
